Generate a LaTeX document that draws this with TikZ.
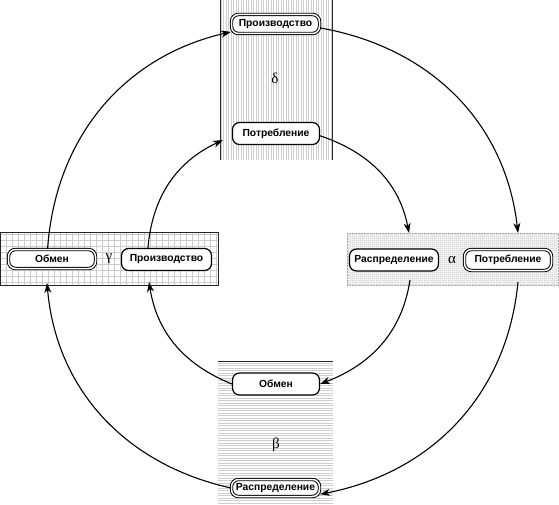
\documentclass[tikz,border=0pt]{standalone}
\usepackage{fontspec}
\setmainfont{Liberation Sans}
\newfontfamily\grk{Liberation Serif}
\usetikzlibrary{arrows.meta}
\begin{document}
\begin{tikzpicture}[x=1pt,y=1pt,
  box/.style={draw, line width=1.2pt, rounded corners=7pt, fill=white, inner sep=0pt,
    font=\fontsize{10.3}{12}\selectfont\bfseries},
  dbox/.style={draw, line width=0.95pt, double=white, double distance=1.5pt, rounded corners=7pt,
    fill=white, inner sep=0pt, font=\fontsize{10.3}{12}\selectfont\bfseries},
  conn/.style={line width=1.1pt, -{Stealth[length=10pt,width=7pt,inset=3pt]}},
  greek/.style={font=\grk\fontsize{15}{15}\selectfont},
  hatch/.style={gray!38, line width=0.5pt},
  border/.style={line width=1pt, black!85}]
\useasboundingbox (0,0) rectangle (559,504);

% delta panel (vertical hatching)
\begin{scope}
  \clip (220,344) rectangle (332,504);
  \foreach \x in {221,223.5,...,332} \draw[hatch] (\x,344) -- (\x,504);
\end{scope}
\draw[border] (220,344) -- (220,504);
\draw[border] (332,344) -- (332,504);

% beta panel (horizontal hatching)
\begin{scope}
  \clip (218,0) rectangle (333,143);
  \foreach \y in {1,3.5,...,142} \draw[hatch] (218,\y) -- (333,\y);
\end{scope}
\draw[border] (218,143) -- (333,143);

% gamma panel (grid)
\begin{scope}
  \clip (0.5,219) rectangle (218,272);
  \draw[gray!40, line width=0.4pt, step=6] (0,216) grid (222,276);
\end{scope}
\draw[border] (0.5,219) rectangle (218,272);

% alpha panel (fine dotted)
\begin{scope}
  \clip (347,219) rectangle (558,271);
  \draw[gray!22, line width=0.35pt, step=2] (346,218) grid (560,272);
\end{scope}
\draw[gray!70, line width=0.9pt, dash pattern=on 2pt off 1pt] (347,219) rectangle (558,271);

% nodes
\node[dbox, minimum width=88pt, minimum height=19pt] (proizT) at (275.5,480) {Производство};
\node[box,  minimum width=87pt, minimum height=22pt] (potrT)  at (276,370.5) {Потребление};
\node[dbox, minimum width=87pt, minimum height=19pt] (obmenL) at (52,245) {Обмен};
\node[box,  minimum width=90pt, minimum height=22pt] (proizL) at (166.5,244.5) {Производство};
\node[box,  minimum width=89pt, minimum height=22pt] (rasprR) at (394,244) {Распределение};
\node[dbox, minimum width=87pt, minimum height=21pt] (potrR)  at (508,244) {Потребление};
\node[box,  minimum width=87pt, minimum height=22pt] (obmenB) at (276,120) {Обмен};
\node[dbox, minimum width=88pt, minimum height=17pt] (rasprB) at (275.5,16) {Распределение};

% greek labels
\node[greek] (delta) at (275,426) {δ};
\node[greek] (gamma) at (109,245) {γ};
\node[greek] (alpha) at (452,244) {α};
\node[greek] (beta)  at (276,59)  {β};

% connector end points on panel borders
\coordinate (tO2) at (518,271);
\coordinate (sO3) at (518,222);
\coordinate (tO4) at (47,221);
\coordinate (tI1) at (223,364);
\coordinate (tI2) at (409,271);
\coordinate (sI3) at (410,224);
\coordinate (tI4) at (149,222);

% outer cycle
\draw[conn] (obmenL.114) to[out=86, in=193] (proizT.190);
\draw[conn] (proizT.-5) to[out=-10, in=96.5] (tO2);
\draw[conn] (sO3) to[out=264.5, in=11] (rasprB.-8);
\draw[conn] (rasprB.west) to[out=167.5, in=275] (tO4);

% inner cycle
\draw[conn] (proizL.148) to[out=85, in=205] (tI1);
\draw[conn] (potrT.-3) to[out=-18.6, in=101] (tI2);
\draw[conn] (sI3) to[out=261.3, in=21] (obmenB.east);
\draw[conn] (obmenB.west) to[out=158, in=279] (tI4);
\end{tikzpicture}
\end{document}
